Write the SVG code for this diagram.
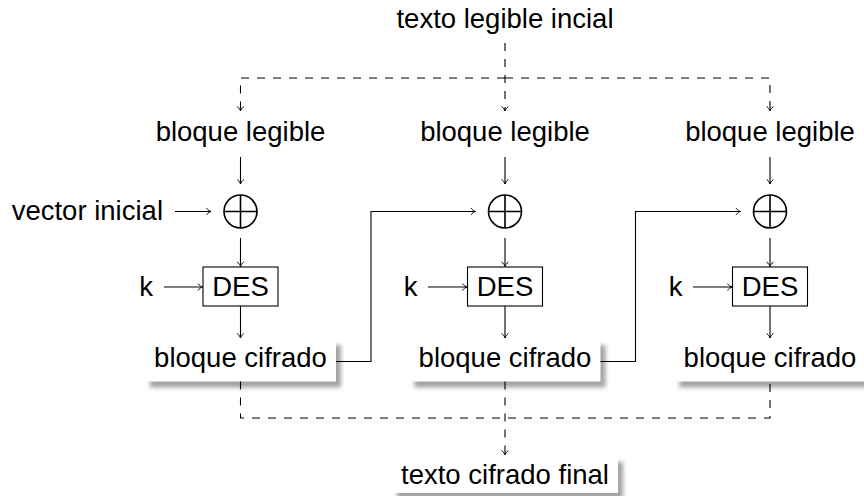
<svg xmlns="http://www.w3.org/2000/svg" width="864" height="496" viewBox="0 0 864 496">
<style>
text{font-family:"Liberation Sans",Arial,sans-serif;font-size:27.5px;fill:#000;text-anchor:middle}
.ln{fill:none;stroke:#000;stroke-width:1.1}
.da{fill:none;stroke:#000;stroke-width:1.1;stroke-dasharray:8 8}
.box{fill:#fff;stroke:none}
.sh{fill:#666;opacity:0.6;filter:url(#blur)}
.xor{fill:none;stroke:#000;stroke-width:1.6}
.des{fill:#fff;stroke:#000;stroke-width:1.1}
</style>
<defs>
<filter id="blur" x="-10%" y="-30%" width="120%" height="160%"><feGaussianBlur stdDeviation="2.2"/></filter>
<marker id="arr" markerUnits="userSpaceOnUse" viewBox="-7 -6 9 12" markerWidth="9" markerHeight="12" refX="0" refY="0" orient="auto">
<path d="M-4.5,-3.4 C-3,-1.3 -1.2,-0.3 0,0 C-1.2,0.3 -3,1.3 -4.5,3.4" fill="none" stroke="#000" stroke-width="1" stroke-dasharray="none"/>
</marker>
</defs>
<rect width="864" height="496" fill="#fff"/>
<g id="top"><text x="505" y="28">texto legible incial</text></g>
<g id="pl1"><text x="240.5" y="141">bloque legible</text></g>
<g id="pl2"><text x="505" y="141">bloque legible</text></g>
<g id="pl3"><text x="770" y="141">bloque legible</text></g>
<g id="iv"><text x="163" y="220" style="text-anchor:end">vector inicial</text></g>
<g id="x1"><circle class="xor" cx="240.5" cy="211.5" r="16.5"/><path class="xor" d="M224,211.5H257M240.5,195V228"/></g>
<g id="x2"><circle class="xor" cx="505" cy="211.5" r="16.5"/><path class="xor" d="M488.5,211.5H521.5M505,195V228"/></g>
<g id="x3"><circle class="xor" cx="770" cy="211.5" r="16.5"/><path class="xor" d="M753.5,211.5H786.5M770,195V228"/></g>
<g id="k1"><text x="146" y="296">k</text></g>
<g id="k2"><text x="410.5" y="296">k</text></g>
<g id="k3"><text x="675.5" y="296">k</text></g>
<g id="d1"><rect class="des" x="203" y="267" width="75" height="39"/><text x="240.5" y="296">DES</text></g>
<g id="d2"><rect class="des" x="467.5" y="267" width="75" height="39"/><text x="505" y="296">DES</text></g>
<g id="d3"><rect class="des" x="732.5" y="267" width="75" height="39"/><text x="770" y="296">DES</text></g>
<g id="c1"><rect class="sh" x="150" y="345" width="191" height="42.5"/><rect class="box" x="145" y="339" width="191" height="42.5"/><text x="240.5" y="367">bloque cifrado</text></g>
<g id="c2"><rect class="sh" x="414.5" y="345" width="191" height="42.5"/><rect class="box" x="409.5" y="339" width="191" height="42.5"/><text x="505" y="367">bloque cifrado</text></g>
<g id="c3"><rect class="sh" x="679.5" y="345" width="191" height="42.5"/><rect class="box" x="674.5" y="339" width="191" height="42.5"/><text x="770" y="367">bloque cifrado</text></g>
<g id="fin"><rect class="sh" x="397" y="462" width="226" height="37"/><rect class="box" x="392" y="456" width="226" height="37"/><text x="505" y="484">texto cifrado final</text></g>
<g id="connectors">
<path class="da" d="M505,43V111" marker-end="url(#arr)"/>
<path class="da" d="M505,78H240.5V111" marker-end="url(#arr)"/>
<path class="da" d="M505,78H770V111" marker-end="url(#arr)"/>
<path class="ln" d="M240.5,157V184" marker-end="url(#arr)"/>
<path class="ln" d="M505,157V184" marker-end="url(#arr)"/>
<path class="ln" d="M770,157V184" marker-end="url(#arr)"/>
<path class="ln" d="M175,211.5H211" marker-end="url(#arr)"/>
<path class="ln" d="M240.5,238V266.5" marker-end="url(#arr)"/>
<path class="ln" d="M505,238V266.5" marker-end="url(#arr)"/>
<path class="ln" d="M770,238V266.5" marker-end="url(#arr)"/>
<path class="ln" d="M164,287H202.5" marker-end="url(#arr)"/>
<path class="ln" d="M428,287H467" marker-end="url(#arr)"/>
<path class="ln" d="M693,287H732" marker-end="url(#arr)"/>
<path class="ln" d="M240.5,306V338" marker-end="url(#arr)"/>
<path class="ln" d="M505,306V338" marker-end="url(#arr)"/>
<path class="ln" d="M770,306V338" marker-end="url(#arr)"/>
<path class="ln" d="M336,361.5H371V211.5H475.5" marker-end="url(#arr)"/>
<path class="ln" d="M600.5,361.5H635.5V211.5H740.5" marker-end="url(#arr)"/>
<path class="da" d="M240.5,381.5V418H770V381.5"/>
<path class="da" d="M505,381.5V455" marker-end="url(#arr)"/>
</g>
</svg>
